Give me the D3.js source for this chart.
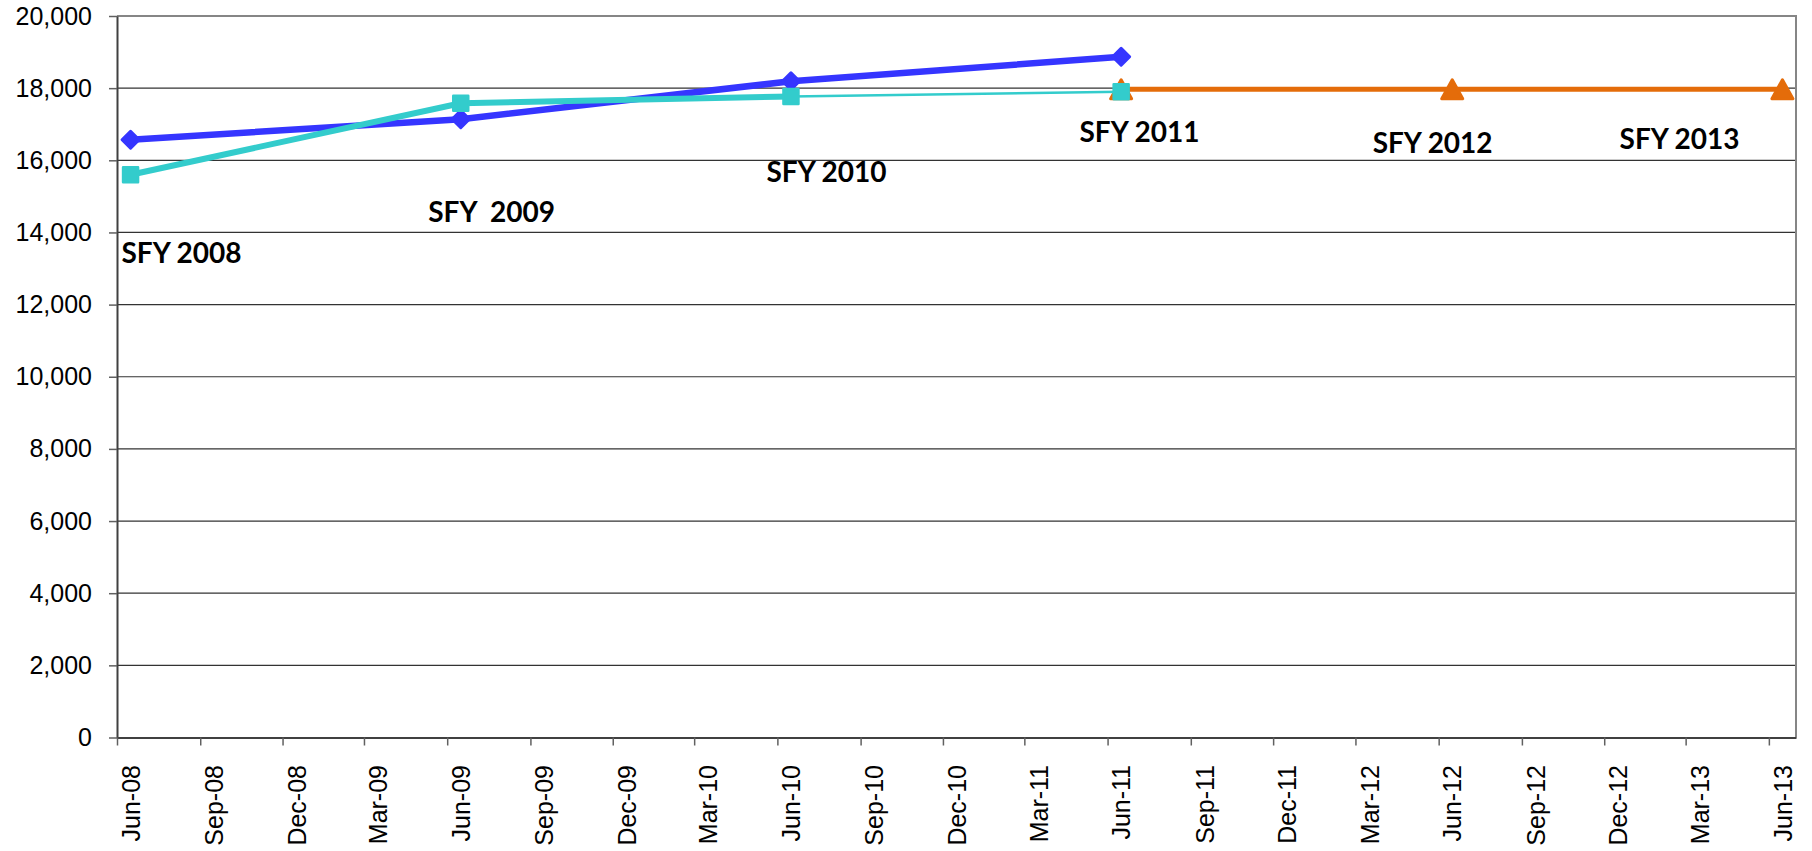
<!DOCTYPE html>
<html>
<head>
<meta charset="utf-8">
<script src="https://cdn.jsdelivr.net/npm/d3@7"></script>
<style>
  body { margin: 0; background: #fff; }
  .axis text { font-family: "Liberation Sans", Arial, sans-serif; font-size: 25px; fill: #000; }
  .sfy { font-family: Lato, "Open Sans", sans-serif; font-weight: bold; font-size: 28px; fill: #000; white-space: pre; }
</style>
</head>
<body>
<svg id="chart" width="1812" height="851"></svg>
<script>
// values (one point per June)
var months = ["2008-06", "2009-06", "2010-06", "2011-06", "2012-06", "2013-06"];
var blueVals = [16570, 17140, 18190, 18870, null, null];
var cyanVals = [15600, 17580, 17770, 17900, null, null];
var orangeVals = [null, null, null, 17970, 17970, 17970];

// SFY notes: text, date of left edge, value at baseline
var sfyText = ["SFY 2008", "SFY  2009", "SFY 2010", "SFY 2011", "SFY 2012", "SFY 2013"];
var sfyDates = ["2008-06-06", "2009-05-11", "2010-05-20", "2011-05-01", "2012-03-20", "2012-12-18"];
var sfyVals = [13160, 14290, 15400, 16510, 16210, 16320];

var svg = d3.select("#chart"),
    margin = { top: 16, right: 16, bottom: 113.5, left: 117 },
    width = +svg.attr("width") - margin.left - margin.right,
    height = +svg.attr("height") - margin.top - margin.bottom,
    g = svg.append("g").attr("transform", "translate(" + margin.left + "," + margin.top + ")");

var parseMonth = d3.timeParse("%Y-%m"),
    parseDay = d3.timeParse("%Y-%m-%d");

var start = parseMonth("2008-06"),
    end = parseMonth("2013-07");

const x = d3.scaleTime().domain([start, end]).range([0, width]);
const y = d3.scaleLinear().domain([0, 20000]).range([height, 0]);

// points sit in the middle of their month (date axis, between ticks)
function xm(d) {
  return (x(d) + x(d3.timeMonth.offset(d, 1))) / 2;
}

function series(vals) {
  return months.map((m, i) => ({ date: parseMonth(m), v: vals[i] })).filter(d => d.v != null);
}

//gridlines
g.append("g")
  .selectAll("line")
  .data(y.ticks(10).filter(t => t > 0 && t < 20000))
  .enter().append("line")
    .attr("x1", 0).attr("x2", width)
    .attr("y1", d => y(d)).attr("y2", d => y(d))
    .attr("stroke", "#333")
    .attr("stroke-width", 1.2);

//plot border top + right
g.append("path")
  .attr("d", "M0," + y(20000) + "H" + width + "V" + height)
  .attr("fill", "none")
  .attr("stroke", "#868686")
  .attr("stroke-width", 2);

//y axis
g.append("g")
  .attr("class", "axis axis--y")
  .call(d3.axisLeft(y).ticks(10).tickFormat(d3.format(",")).tickSize(8).tickSizeOuter(0).tickPadding(17))
  .call(a => a.select(".domain").attr("stroke", "#404040").attr("stroke-width", 2))
  .call(a => a.selectAll(".tick line").attr("stroke", "#606060").attr("stroke-width", 1.5));

//x axis, quarterly ticks, labels centred on the month
var tickDates = d3.timeMonth.range(start, end, 3);
var xAxis = g.append("g")
  .attr("class", "axis axis--x")
  .attr("transform", "translate(0," + height + ")")
  .call(d3.axisBottom(x).tickValues(tickDates).tickFormat(d3.timeFormat("%b-%y")).tickSize(8).tickSizeOuter(0));

xAxis.select(".domain").attr("stroke", "#404040").attr("stroke-width", 2);
xAxis.selectAll(".tick line").attr("stroke", "#606060").attr("stroke-width", 1.5);
xAxis.selectAll(".tick text")
  .attr("x", 0).attr("y", 0).attr("dy", "0.35em")
  .attr("text-anchor", "end")
  .attr("transform", d => "translate(" + (xm(d) - x(d)) + ",27.5) rotate(-90)");

var line = d3.line().x(d => xm(d.date)).y(d => y(d.v));

// marker shapes
var diamond = { draw: function(ctx, s) { ctx.moveTo(0, -s); ctx.lineTo(s, 0); ctx.lineTo(0, s); ctx.lineTo(-s, 0); ctx.closePath(); } };
var square = { draw: function(ctx, s) { ctx.rect(-s, -s, 2 * s, 2 * s); } };
var triangle = { draw: function(ctx, s) { ctx.moveTo(0, -s * 0.9); ctx.lineTo(s, s * 0.9); ctx.lineTo(-s, s * 0.9); ctx.closePath(); } };

function markers(data, type, size, colour, sw) {
  g.append("g")
    .selectAll("path")
    .data(data)
    .enter().append("path")
      .attr("transform", d => "translate(" + xm(d.date) + "," + y(d.v) + ")")
      .attr("d", d3.symbol().type(type).size(size))
      .attr("fill", colour)
      .attr("stroke", colour)
      .attr("stroke-width", sw)
      .attr("stroke-linejoin", "round");
}

//orange (projection)
var orange = series(orangeVals);
g.append("path").datum(orange)
  .attr("d", line)
  .attr("fill", "none").attr("stroke", "#e46c0a").attr("stroke-width", 5);
markers(orange, triangle, 10.5, "#e46c0a", 3);

//blue
var blue = series(blueVals);
g.append("path").datum(blue)
  .attr("d", line)
  .attr("fill", "none").attr("stroke", "#3535ff").attr("stroke-width", 6.5)
  .attr("stroke-linejoin", "round");
markers(blue, diamond, 8.5, "#3535ff", 3);

//cyan, last segment is drawn thin
var cyan = series(cyanVals);
var cyanWidths = [6, 6, 2.5];
g.append("g")
  .selectAll("path")
  .data(d3.pairs(cyan))
  .enter().append("path")
    .attr("d", line)
    .attr("fill", "none")
    .attr("stroke", "#33cccc")
    .attr("stroke-width", (d, i) => cyanWidths[i]);
markers(cyan, square, 7.5, "#33cccc", 2.5);

//SFY labels
g.append("g")
  .selectAll("text")
  .data(sfyText)
  .enter().append("text")
    .attr("class", "sfy")
    .attr("x", (d, i) => x(parseDay(sfyDates[i])))
    .attr("y", (d, i) => y(sfyVals[i]))
    .text(d => d);
</script>
</body>
</html>
